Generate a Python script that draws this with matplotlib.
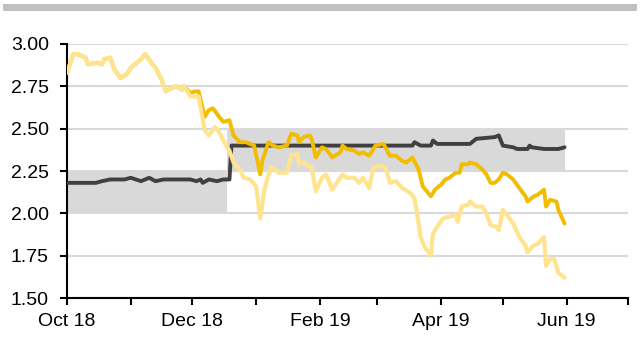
import pandas as pd
import matplotlib
matplotlib.use("Agg")
import matplotlib.pyplot as plt
import matplotlib.dates as mdates
from matplotlib.patches import Rectangle

plt.rcParams['font.family'] = ['Liberation Sans', 'DejaVu Sans']

# --- data ---
early_dates = ['2018-10-01', '2018-10-04', '2018-10-06', '2018-10-10', '2018-10-11',
               '2018-10-16', '2018-10-18', '2018-10-19', '2018-10-22', '2018-10-24',
               '2018-10-27', '2018-10-30', '2018-11-01', '2018-11-04', '2018-11-06',
               '2018-11-08', '2018-11-11', '2018-11-13', '2018-11-16', '2018-11-18',
               '2018-11-21', '2018-11-23', '2018-11-26', '2018-11-27']
early_vals = [2.83, 2.94, 2.94, 2.92, 2.88, 2.89, 2.88, 2.91, 2.92, 2.85,
              2.80, 2.82, 2.86, 2.89, 2.91, 2.94, 2.89, 2.86, 2.79, 2.72,
              2.74, 2.75, 2.73, 2.75]

gold_dates = ['2018-11-30', '2018-12-02', '2018-12-04', '2018-12-07', '2018-12-09',
              '2018-12-11', '2018-12-14', '2018-12-16', '2018-12-19', '2018-12-21',
              '2018-12-24', '2018-12-27', '2018-12-31', '2019-01-03', '2019-01-04',
              '2019-01-07', '2019-01-09', '2019-01-12', '2019-01-16', '2019-01-18',
              '2019-01-21', '2019-01-22', '2019-01-24', '2019-01-27', '2019-01-28',
              '2019-01-30', '2019-02-02', '2019-02-04', '2019-02-07', '2019-02-11',
              '2019-02-12', '2019-02-14', '2019-02-18', '2019-02-20', '2019-02-22',
              '2019-02-25', '2019-02-28', '2019-03-04', '2019-03-07', '2019-03-10',
              '2019-03-13', '2019-03-15', '2019-03-18', '2019-03-21', '2019-03-23',
              '2019-03-27', '2019-03-29', '2019-04-01', '2019-04-03', '2019-04-05',
              '2019-04-08', '2019-04-10', '2019-04-11', '2019-04-14', '2019-04-15',
              '2019-04-18', '2019-04-21', '2019-04-23', '2019-04-25', '2019-04-27',
              '2019-04-29', '2019-05-01', '2019-05-03', '2019-05-06', '2019-05-09',
              '2019-05-12', '2019-05-13', '2019-05-16', '2019-05-18', '2019-05-21',
              '2019-05-22', '2019-05-24', '2019-05-27', '2019-05-28', '2019-05-31']
gold_vals = [2.71, 2.72, 2.72, 2.57, 2.61, 2.62, 2.57, 2.54, 2.55, 2.46,
             2.42, 2.42, 2.40, 2.23, 2.31, 2.42, 2.40, 2.39, 2.40, 2.47,
             2.46, 2.42, 2.45, 2.46, 2.44, 2.33, 2.39, 2.38, 2.33, 2.36,
             2.40, 2.38, 2.37, 2.35, 2.36, 2.34, 2.40, 2.41, 2.34, 2.34,
             2.31, 2.30, 2.33, 2.26, 2.16, 2.10, 2.14, 2.17, 2.20, 2.21,
             2.24, 2.24, 2.29, 2.29, 2.30, 2.29, 2.26, 2.23, 2.18, 2.18,
             2.20, 2.24, 2.23, 2.20, 2.15, 2.10, 2.07, 2.10, 2.11, 2.14,
             2.04, 2.08, 2.07, 2.02, 1.94]

pale_dates = ['2018-11-30', '2018-12-04', '2018-12-07', '2018-12-09', '2018-12-12',
              '2018-12-14', '2018-12-16', '2018-12-19', '2018-12-21', '2018-12-24',
              '2018-12-26', '2018-12-29', '2019-01-01', '2019-01-03', '2019-01-05',
              '2019-01-08', '2019-01-10', '2019-01-12', '2019-01-16', '2019-01-18',
              '2019-01-21', '2019-01-22', '2019-01-24', '2019-01-28', '2019-01-30',
              '2019-02-02', '2019-02-04', '2019-02-07', '2019-02-12', '2019-02-14',
              '2019-02-18', '2019-02-20', '2019-02-22', '2019-02-25', '2019-02-27',
              '2019-03-03', '2019-03-05', '2019-03-07', '2019-03-10', '2019-03-13',
              '2019-03-17', '2019-03-19', '2019-03-20', '2019-03-22', '2019-03-24',
              '2019-03-27', '2019-03-28', '2019-03-31', '2019-04-02', '2019-04-05',
              '2019-04-08', '2019-04-09', '2019-04-11', '2019-04-14', '2019-04-15',
              '2019-04-18', '2019-04-21', '2019-04-23', '2019-04-25', '2019-04-28',
              '2019-04-29', '2019-05-01', '2019-05-03', '2019-05-06', '2019-05-09',
              '2019-05-12', '2019-05-13', '2019-05-16', '2019-05-18', '2019-05-21',
              '2019-05-22', '2019-05-24', '2019-05-26', '2019-05-28', '2019-05-31']
pale_vals = [2.69, 2.69, 2.49, 2.46, 2.51, 2.48, 2.43, 2.37, 2.30, 2.26,
             2.21, 2.20, 2.16, 1.97, 2.14, 2.27, 2.26, 2.24, 2.24, 2.34,
             2.35, 2.29, 2.30, 2.27, 2.13, 2.21, 2.23, 2.14, 2.23, 2.21,
             2.21, 2.18, 2.21, 2.15, 2.27, 2.28, 2.27, 2.18, 2.19, 2.15,
             2.12, 2.09, 2.02, 1.86, 1.80, 1.75, 1.88, 1.94, 1.97, 1.98,
             1.99, 1.95, 2.04, 2.05, 2.07, 2.04, 2.04, 2.00, 1.93, 1.92,
             1.90, 2.02, 1.99, 1.94, 1.86, 1.81, 1.77, 1.81, 1.82, 1.86,
             1.69, 1.73, 1.73, 1.65, 1.62]

grey_dates = ['2018-10-01', '2018-10-15', '2018-10-18', '2018-10-22', '2018-10-29',
              '2018-11-01', '2018-11-06', '2018-11-10', '2018-11-13', '2018-11-17',
              '2018-11-30', '2018-12-03', '2018-12-05', '2018-12-06', '2018-12-09',
              '2018-12-13', '2018-12-16', '2018-12-19', '2018-12-20', '2019-03-18',
              '2019-03-19', '2019-03-22', '2019-03-27', '2019-03-28', '2019-03-30',
              '2019-04-15', '2019-04-18', '2019-04-27', '2019-04-29', '2019-05-01',
              '2019-05-06', '2019-05-08', '2019-05-13', '2019-05-14', '2019-05-15',
              '2019-05-21', '2019-05-28', '2019-05-31']
grey_vals = [2.18, 2.18, 2.19, 2.20, 2.20, 2.21, 2.19, 2.21, 2.19, 2.20,
             2.20, 2.19, 2.20, 2.18, 2.20, 2.19, 2.20, 2.20, 2.40, 2.40,
             2.42, 2.40, 2.40, 2.43, 2.41, 2.41, 2.44, 2.45, 2.46, 2.40,
             2.39, 2.38, 2.38, 2.40, 2.39, 2.38, 2.38, 2.39]

band1_dates = ['2018-10-01', '2018-12-18']
band1_lo, band1_hi = 2.00, 2.25
band2_dates = ['2018-12-18', '2019-05-31']
band2_lo, band2_hi = 2.25, 2.50

y_ticks = [1.50, 1.75, 2.00, 2.25, 2.50, 2.75, 3.00]

# --- plot ---
fig = plt.figure(figsize=(6.4, 3.6), dpi=100)
ax = fig.add_axes([0.1047, 0.1722, 0.877, 0.7056])

# thin grey bar at the top of the figure
fig.patches.append(Rectangle((3 / 640, 1 - 11 / 360), 634 / 640, 7 / 360,
                             transform=fig.transFigure, color='#c0c0c0', lw=0))

b1 = pd.to_datetime(band1_dates)
b2 = pd.to_datetime(band2_dates)
ax.fill_between(b1, band1_lo, band1_hi, color='#d9d9d9', lw=0, zorder=1)
ax.fill_between(b2, band2_lo, band2_hi, color='#d9d9d9', lw=0, zorder=1)

gold_x = pd.to_datetime(early_dates + gold_dates)
pale_x = pd.to_datetime(early_dates + pale_dates)
ax.plot(pd.to_datetime(grey_dates), grey_vals, color='#404040', lw=2.8, zorder=3,
        solid_joinstyle='round', solid_capstyle='round')
ax.plot(gold_x, early_vals + gold_vals, color='#f2bc00', lw=2.8, zorder=4,
        solid_joinstyle='round', solid_capstyle='round')
ax.plot(pale_x, early_vals + pale_vals, color='#ffe48f', lw=3.0, zorder=5,
        solid_joinstyle='round', solid_capstyle='round')

ax.set_ylim(1.5, 3.0)
ax.set_yticks(y_ticks)
ax.yaxis.set_major_formatter(matplotlib.ticker.FormatStrFormatter('%.2f'))
ax.set_xlim(pd.Timestamp('2018-10-01'), pd.Timestamp('2019-07-01'))
ax.xaxis.set_major_locator(mdates.MonthLocator(bymonth=[10, 12, 2, 4, 6]))
ax.xaxis.set_minor_locator(mdates.MonthLocator())
ax.xaxis.set_major_formatter(mdates.DateFormatter('%b %y'))

ax.grid(axis='y', color='#d9d9d9', lw=1.5, zorder=0)
ax.set_axisbelow(True)
for s in ['top', 'right']:
    ax.spines[s].set_visible(False)
for s in ['left', 'bottom']:
    ax.spines[s].set_linewidth(1.5)
    ax.spines[s].set_color('black')

ax.tick_params(axis='y', which='major', length=5, width=1.5, labelsize=14, pad=8)
ax.tick_params(axis='x', which='both', length=5, width=1.5, labelsize=14, pad=6)

fig.savefig('out.png', dpi=100)
